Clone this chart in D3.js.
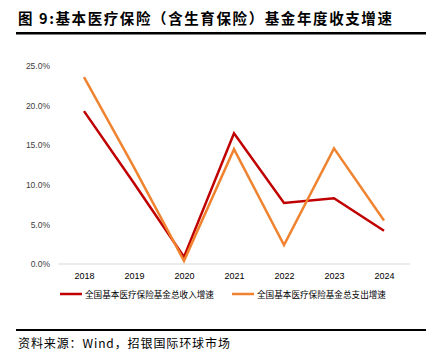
<!DOCTYPE html>
<html>
<head>
<meta charset="utf-8">
<script src="https://cdn.jsdelivr.net/npm/d3@7"></script>
<style>
  body { margin: 0; background: #fff; }
  svg { display: block; }
</style>
</head>
<body>
<div id="chart"></div>
<script>
// Data
const years = ["2018", "2019", "2020", "2021", "2022", "2023", "2024"];
const incomeGrowth = [19.3, 10.2, 0.9, 16.5, 7.7, 8.3, 4.2];
const expenseGrowth = [23.6, 12.2, 0.4, 14.5, 2.4, 14.6, 5.5];
const yTicks = [0, 5, 10, 15, 20, 25];
const seriesNames = ["全国基本医疗保险基金总收入增速", "全国基本医疗保险基金总支出增速"];
const seriesColors = ["#C00000", "#F0832F"];

const W = 437, H = 362;
const cjk = "'Noto Sans CJK SC', sans-serif";

const svg = d3.select("#chart").append("svg")
    .attr("width", W)
    .attr("height", H);

// Title + rules
svg.append("text")
    .attr("x", 18).attr("y", 24)
    .attr("font-family", cjk)
    .attr("font-size", 14.5)
    .attr("font-weight", "bold")
    .attr("letter-spacing", 1.6)
    .attr("fill", "#000")
    .text("图 9:基本医疗保险（含生育保险）基金年度收支增速");

svg.append("rect").attr("x", 16).attr("y", 32).attr("width", 410).attr("height", 2.5).attr("fill", "#000");
svg.append("rect").attr("x", 16).attr("y", 329).attr("width", 410).attr("height", 2).attr("fill", "#000");

svg.append("text")
    .attr("x", 18).attr("y", 348)
    .attr("font-family", cjk)
    .attr("font-size", 12)
    .attr("letter-spacing", 0.9)
    .attr("fill", "#000")
    .text("资料来源：Wind，招银国际环球市场");

// Scales
const x = d3.scalePoint().domain(years).range([84, 384]);
const y = d3.scaleLinear().domain([0, 25]).range([264, 66]);

// Axes
const yAxis = d3.axisLeft(y).tickValues(yTicks).tickSize(0).tickPadding(0)
    .tickFormat(d => d.toFixed(1) + "%");
svg.append("g")
    .attr("transform", "translate(50,0)")
    .call(yAxis)
    .call(g => g.select(".domain").remove())
    .call(g => g.selectAll("text")
        .attr("font-family", "'Liberation Sans', Arial, sans-serif")
        .attr("font-size", 8.5)
        .attr("fill", "#404040"));

const xAxis = d3.axisBottom(x).tickSize(0).tickPadding(9);
svg.append("g")
    .attr("transform", "translate(0,264)")
    .call(xAxis)
    .call(g => g.select(".domain").attr("d", "M58,0H410").attr("stroke", "#d9d9d9"))
    .call(g => g.selectAll("text")
        .attr("font-family", "'Liberation Sans', Arial, sans-serif")
        .attr("font-size", 9)
        .attr("fill", "#000"));

// Lines
const line = d3.line()
    .x((d, i) => x(years[i]))
    .y(d => y(d));

[incomeGrowth, expenseGrowth].forEach((vals, k) => {
    svg.append("path")
        .datum(vals)
        .attr("d", line)
        .attr("fill", "none")
        .attr("stroke", seriesColors[k])
        .attr("stroke-width", 2.5)
        .attr("stroke-linejoin", "miter");
});

// Legend
const legendX = [60, 232];
seriesNames.forEach((name, k) => {
    const g = svg.append("g").attr("transform", `translate(${legendX[k]},294)`);
    g.append("line")
        .attr("x1", 0).attr("x2", 22)
        .attr("stroke", seriesColors[k])
        .attr("stroke-width", 2.5);
    g.append("text")
        .attr("x", 25).attr("y", 3.5)
        .attr("font-family", cjk)
        .attr("font-size", 8.6)
        .attr("fill", "#000")
        .text(name);
});
</script>
</body>
</html>
